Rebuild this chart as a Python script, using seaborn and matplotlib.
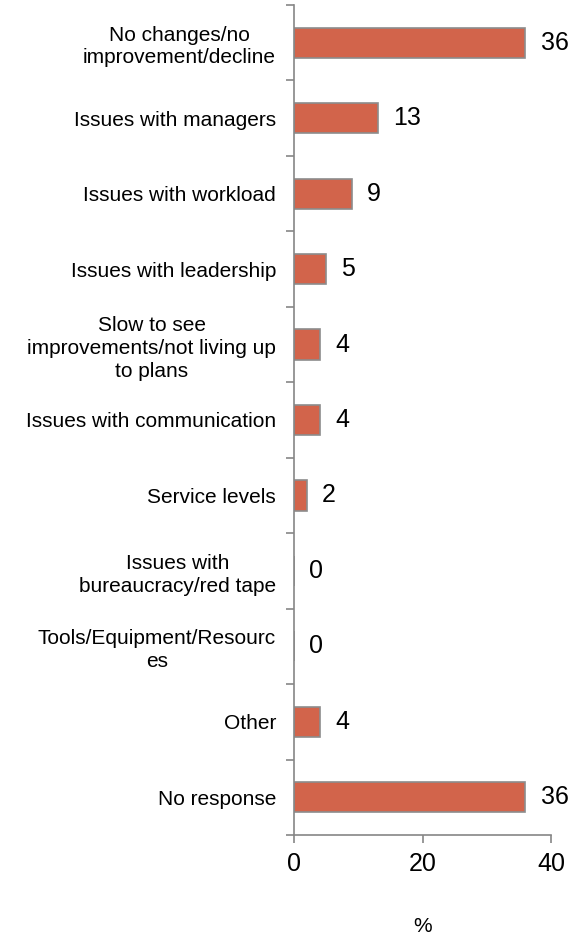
import numpy as np
import pandas as pd
import seaborn as sns
import matplotlib.pyplot as plt
from matplotlib.ticker import FixedLocator

categories = ['No changes/no\nimprovement/decline', 'Issues with managers', 'Issues with workload',
              'Issues with leadership', 'Slow to see\nimprovements/not living up\nto plans',
              'Issues with communication', 'Service levels', 'Issues with\nbureaucracy/red tape',
              'Tools/Equipment/Resourc\nes', 'Other', 'No response']
values = [36, 13, 9, 5, 4, 4, 2, 0, 0, 4, 36]
x_ticks = [0, 20, 40]

df = pd.DataFrame({'reason': categories, 'pct': values})

sns.set_style('white')
plt.rcParams['font.family'] = ['Liberation Sans', 'DejaVu Sans']
plt.rcParams['text.color'] = 'black'
plt.rcParams['xtick.labelcolor'] = 'black'
plt.rcParams['ytick.labelcolor'] = 'black'
plt.rcParams['axes.labelcolor'] = 'black'

fig = plt.figure(figsize=(5.78, 9.36), dpi=100)
ax = fig.add_axes([0.5087, 0.1079, 0.4446, 0.8868])

sns.barplot(data=df, x='pct', y='reason', orient='h', color='#D2644B', saturation=1,
            width=0.4, edgecolor='#8C8C8C', linewidth=1.2, ax=ax)

for i, v in enumerate(values):
    ax.annotate(str(v), xy=(v, i), xytext=(11, 0), textcoords='offset points',
                ha='left', va='center', fontsize=18, color='black')

ax.set_xlim(0, 40)
ax.set_ylim(len(categories) - 0.5, -0.5)
ax.set_xticks(x_ticks)
ax.set_xticklabels([str(t) for t in x_ticks], fontsize=18, color='black')
ax.set_yticks(range(len(categories)))
ax.set_yticklabels(categories, fontsize=15, linespacing=1.25, multialignment='center', color='black')
ax.yaxis.set_minor_locator(FixedLocator(np.arange(-0.5, len(categories), 1)))
ax.tick_params(axis='y', which='major', length=0, pad=13)
ax.tick_params(axis='y', which='minor', length=6, width=1.2, color='#868686', direction='out', left=True)
ax.tick_params(axis='x', length=6, width=1.2, color='#868686', direction='out', pad=6, bottom=True)

ax.set_ylabel('')
ax.set_xlabel('%', fontsize=15, labelpad=30, color='black')

for s in ['top', 'right']:
    ax.spines[s].set_visible(False)
for s in ['left', 'bottom']:
    ax.spines[s].set_color('#868686')
    ax.spines[s].set_linewidth(1.2)

fig.savefig('out.png', dpi=100)
